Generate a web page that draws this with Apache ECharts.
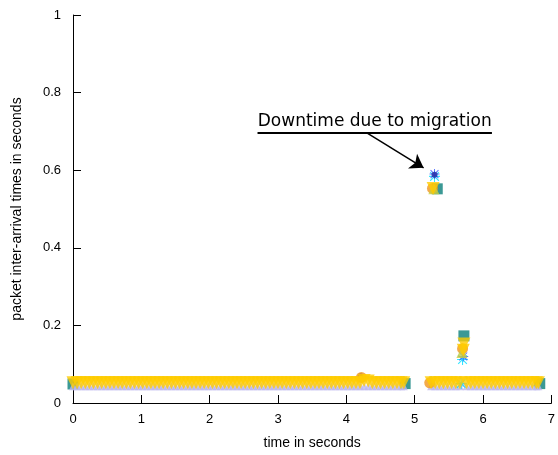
<!DOCTYPE html>
<html>
<head>
<meta charset="utf-8">
<script src="https://cdn.jsdelivr.net/npm/echarts@6/dist/echarts.min.js"></script>
<style>html,body{margin:0;padding:0;background:#fff;}#chart{width:558px;height:455px;}</style>
</head>
<body>
<div id="chart"></div>
<script>
// x tick labels / y tick labels
const xTicks = [0, 1, 2, 3, 4, 5, 6, 7];
const yTicks = [0, 0.2, 0.4, 0.6, 0.8, 1];

// packet arrival times (s) of the steady band, before and after migration
const bandTimes = [
  0.00,0.06,0.12,0.18,0.24,0.30,0.36,0.42,0.48,0.54,
  0.60,0.66,0.72,0.78,0.84,0.90,0.96,1.02,1.08,1.14,
  1.20,1.26,1.32,1.38,1.44,1.50,1.56,1.62,1.68,1.74,
  1.80,1.86,1.92,1.98,2.04,2.10,2.16,2.22,2.28,2.34,
  2.40,2.46,2.52,2.58,2.64,2.70,2.76,2.82,2.88,2.94,
  3.00,3.06,3.12,3.18,3.24,3.30,3.36,3.42,3.48,3.54,
  3.60,3.66,3.72,3.78,3.84,3.90,3.96,4.02,4.08,4.14,
  4.20,4.26,4.32,4.38,4.44,4.50,4.56,4.62,4.68,4.74,
  4.80,4.84,
  5.24,5.30,5.36,5.42,5.48,5.54,5.60,5.66,
  5.76,5.82,5.88,5.94,6.00,6.06,6.12,6.18,6.24,6.30,
  6.36,6.42,6.48,6.54,6.60,6.66,6.72,6.78,6.81
];

// yellow run: inter-arrival times on the band
const yellowBand = [
  0.052,0.052,0.052,0.052,0.052,0.052,0.052,0.052,0.052,0.052,
  0.052,0.052,0.052,0.052,0.052,0.052,0.052,0.052,0.052,0.052,
  0.052,0.052,0.052,0.052,0.052,0.052,0.052,0.052,0.052,0.052,
  0.052,0.052,0.052,0.052,0.052,0.052,0.052,0.052,0.052,0.052,
  0.052,0.052,0.052,0.052,0.052,0.052,0.052,0.052,0.052,0.052,
  0.052,0.052,0.052,0.052,0.052,0.052,0.052,0.052,0.052,0.052,
  0.052,0.052,0.052,0.052,0.052,0.052,0.052,0.052,0.052,0.052,
  0.052,0.058,0.057,0.052,0.052,0.052,0.052,0.052,0.052,0.052,
  0.052,0.052,
  0.052,0.052,0.052,0.052,0.052,0.052,0.052,0.052,
  0.052,0.052,0.052,0.052,0.052,0.052,0.052,0.052,0.052,0.052,
  0.052,0.052,0.052,0.052,0.052,0.052,0.052,0.052,0.052
];
const yellowExtraTimes = [5.27, 5.72, 5.71];
const yellowExtraValues = [0.553, 0.152, 0.136];

// green run: sits just above the band
const greenBand = [
  0.066,0.066,0.066,0.066,0.066,0.066,0.066,0.066,0.066,0.066,
  0.066,0.066,0.066,0.066,0.066,0.066,0.066,0.066,0.066,0.066,
  0.066,0.066,0.066,0.066,0.066,0.066,0.066,0.066,0.066,0.066,
  0.066,0.066,0.066,0.066,0.066,0.066,0.066,0.066,0.066,0.066,
  0.066,0.066,0.066,0.066,0.066,0.066,0.066,0.066,0.066,0.066,
  0.066,0.066,0.066,0.066,0.066,0.066,0.066,0.066,0.066,0.066,
  0.066,0.066,0.066,0.066,0.066,0.066,0.066,0.066,0.066,0.066,
  0.066,0.066,0.066,0.066,0.066,0.066,0.066,0.066,0.066,0.066,
  0.066,0.066,
  0.066,0.066,0.066,0.066,0.066,0.066,0.066,0.066,
  0.066,0.066,0.066,0.066,0.066,0.066,0.066,0.066,0.066,0.066,
  0.066,0.066,0.066,0.066,0.066,0.066,0.066,0.066,0.066
];

// purple run: sits just below the band
const purpleBand = [
  0.043,0.043,0.043,0.043,0.043,0.043,0.043,0.043,0.043,0.043,
  0.043,0.043,0.043,0.043,0.043,0.043,0.043,0.043,0.043,0.043,
  0.043,0.043,0.043,0.043,0.043,0.043,0.043,0.043,0.043,0.043,
  0.043,0.043,0.043,0.043,0.043,0.043,0.043,0.043,0.043,0.043,
  0.043,0.043,0.043,0.043,0.043,0.043,0.043,0.043,0.043,0.043,
  0.043,0.043,0.043,0.043,0.043,0.043,0.043,0.043,0.043,0.043,
  0.043,0.043,0.043,0.043,0.043,0.043,0.043,0.043,0.043,0.043,
  0.043,0.043,0.043,0.043,0.043,0.043,0.043,0.043,0.043,0.043,
  0.043,0.043,
  0.043,0.043,0.043,0.043,0.043,0.043,0.043,0.043,
  0.043,0.043,0.043,0.043,0.043,0.043,0.043,0.043,0.043,0.043,
  0.043,0.043,0.043,0.043,0.043,0.043,0.043,0.043,0.043
];
const purpleExtraTimes = [5.70, 5.72];
const purpleExtraValues = [0.052, 0.122];

// sparse runs, visible only at edges, downtime and the spike
const tealTimes = [0.00, 4.86, 6.83, 5.33, 5.72];
const tealValues = [0.049, 0.050, 0.050, 0.552, 0.173];
const orangeTimes = [4.22, 5.22, 5.26, 5.70];
const orangeValues = [0.066, 0.052, 0.553, 0.140];
const limeTimes = [5.28, 5.69];
const limeValues = [0.552, 0.130];
const navyTimes = [4.21, 5.29];
const navyValues = [0.069, 0.588];
const blueTimes = [5.29, 5.71];
const blueValues = [0.590, 0.120];
const cyanTimes = [5.29, 5.70, 5.68];
const cyanValues = [0.584, 0.112, 0.050];

// annotation
const noteText = 'Downtime due to migration';
const noteLine = [[2.70, 0.696], [6.13, 0.696]];
const noteArrow = [[4.30, 0.696], [5.13, 0.606]];

function zip(t, v) { return t.map((x, i) => [x, v[i]]); }

const asterisk = 'path://M4.5,0L5.5,0L5.5,10L4.5,10Z M0,4.5L10,4.5L10,5.5L0,5.5Z M0.7,1.4L1.4,0.7L9.3,8.6L8.6,9.3Z M8.6,0.7L9.3,1.4L1.4,9.3L0.7,8.6Z';

const chart = echarts.init(document.getElementById('chart'), null, { renderer: 'canvas' });
const tickFont = { color: '#000', fontFamily: 'Liberation Sans, Arial, sans-serif', fontSize: 13 };
const nameFont = { color: '#000', fontFamily: 'Liberation Sans, Arial, sans-serif', fontSize: 14 };

chart.setOption({
  animation: false,
  backgroundColor: '#fff',
  grid: { left: 73, right: 2, top: 15, bottom: 52, containLabel: false },
  xAxis: {
    type: 'value', min: xTicks[0], max: xTicks[xTicks.length - 1], interval: 1,
    name: 'time in seconds', nameLocation: 'middle', nameGap: 33,
    nameTextStyle: nameFont,
    axisLine: { show: true, lineStyle: { color: '#000', width: 1 } },
    axisTick: { show: true, inside: true, length: 8, lineStyle: { color: '#000' } },
    axisLabel: Object.assign({ margin: 10, formatter: v => String(v) }, tickFont),
    splitLine: { show: false }
  },
  yAxis: {
    type: 'value', min: yTicks[0], max: yTicks[yTicks.length - 1], interval: 0.2,
    name: 'packet inter-arrival times in seconds', nameLocation: 'middle', nameGap: 49,
    nameTextStyle: nameFont,
    axisLine: { show: true, lineStyle: { color: '#000', width: 1 } },
    axisTick: { show: true, inside: true, length: 8, lineStyle: { color: '#000' } },
    axisLabel: Object.assign({ margin: 12, formatter: v => String(+v.toFixed(1)) }, tickFont),
    splitLine: { show: false }
  },
  series: [
    { type: 'scatter', name: 'teal', data: zip(tealTimes, tealValues), symbol: 'rect', symbolSize: 11,
      itemStyle: { color: '#0a7f7a' } },
    { type: 'scatter', name: 'green', data: zip(bandTimes, greenBand), symbol: 'circle', symbolSize: 3,
      itemStyle: { color: '#9cc24a' } },
    { type: 'scatter', name: 'purple', data: zip(bandTimes, purpleBand).concat(zip(purpleExtraTimes, purpleExtraValues)),
      symbol: 'triangle', symbolSize: 8, itemStyle: { color: '#bdb8f0' } },
    { type: 'scatter', name: 'cyan', data: zip(cyanTimes, cyanValues), symbol: asterisk, symbolSize: 11,
      itemStyle: { color: '#00e0ff' } },
    { type: 'scatter', name: 'blue', data: zip(blueTimes, blueValues), symbol: asterisk, symbolSize: 10,
      itemStyle: { color: '#3355ff' } },
    { type: 'scatter', name: 'navy', data: zip(navyTimes, navyValues), symbol: 'circle', symbolSize: 6,
      itemStyle: { color: '#2a2aa0' } },
    { type: 'scatter', name: 'orange', data: zip(orangeTimes, orangeValues), symbol: 'circle', symbolSize: 11,
      itemStyle: { color: '#f0961e' } },
    { type: 'scatter', name: 'lime', data: zip(limeTimes, limeValues), symbol: 'triangle', symbolSize: 11,
      itemStyle: { color: '#c8d040' } },
    { type: 'scatter', name: 'yellow',
      data: zip(bandTimes, yellowBand).concat(zip(yellowExtraTimes, yellowExtraValues)),
      symbol: 'triangle', symbolRotate: 180, symbolSize: [13, 13],
      itemStyle: { color: '#ffcc00' },
      markLine: {
        silent: true, animation: false,
        symbol: ['none', 'none'],
        label: { show: false },
        data: [
          [ { coord: noteLine[0], lineStyle: { color: '#000', width: 2, type: 'solid' },
              label: { show: true, position: 'insideMiddleTop', formatter: noteText, distance: 3,
                       color: '#000', fontSize: 17, fontFamily: 'DejaVu Sans' } },
            { coord: noteLine[1] } ],
          [ { coord: noteArrow[0], symbol: 'none', lineStyle: { color: '#000', width: 1.5, type: 'solid' } },
            { coord: noteArrow[1], symbol: 'arrow', symbolSize: 13 } ]
        ]
      }
    }
  ]
});
</script>
</body>
</html>
